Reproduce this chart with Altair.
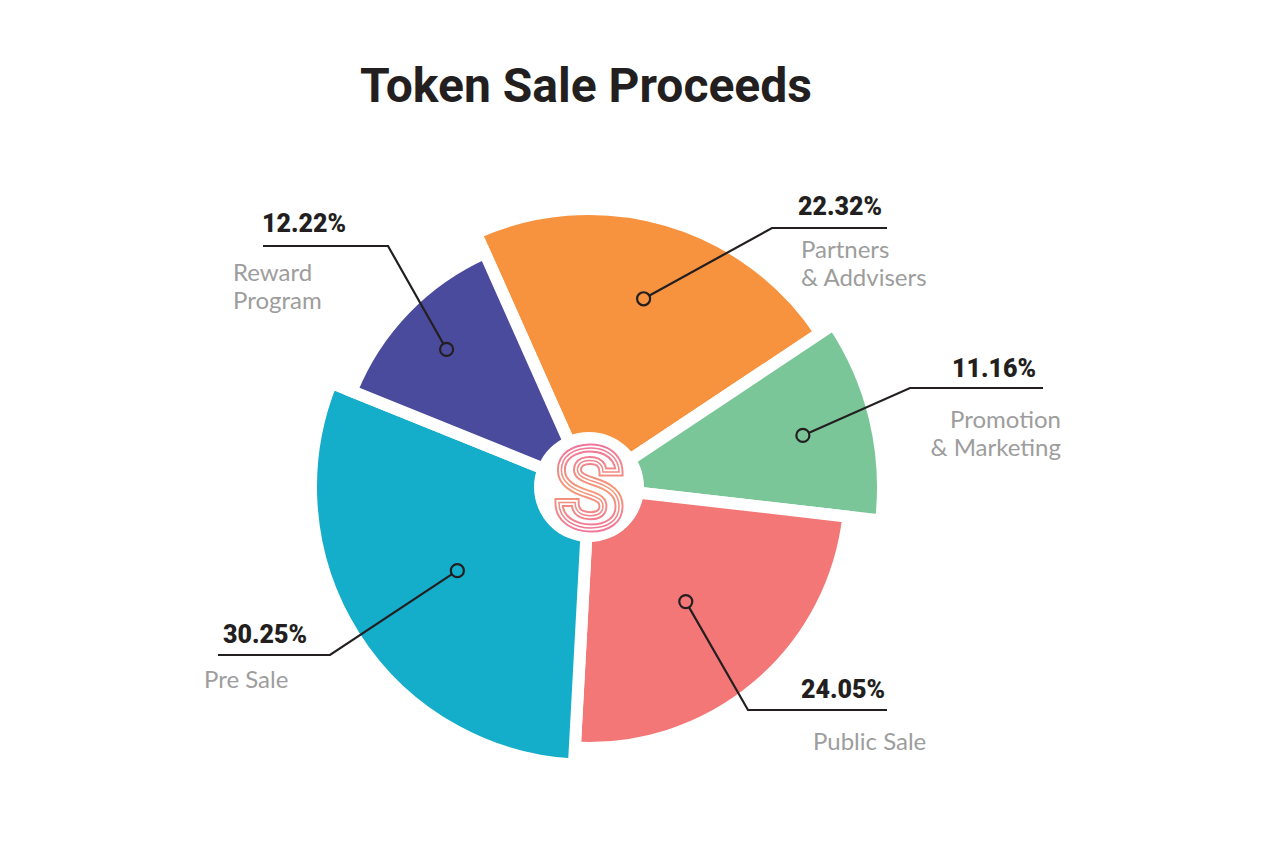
import math
import altair as alt
import pandas as pd

# ---------------- data ----------------
categories = ["Partners & Addvisers", "Promotion & Marketing", "Public Sale", "Pre Sale", "Reward Program"]
shares = [22.32, 11.16, 24.05, 30.25, 12.22]
pct_labels = ["22.32%", "11.16%", "24.05%", "30.25%", "12.22%"]
name_lines = [["Partners", "& Addvisers"], ["Promotion", "& Marketing"], ["Public Sale"], ["Pre Sale"], ["Reward", "Program"]]
title_text = "Token Sale Proceeds"

# ---------------- style / layout ----------------
colors = ["#F7923E", "#7AC698", "#F37776", "#14AECB", "#4A4B9D"]
outer_r = [272, 288, 255, 272, 250]      # drawn outer radius of each slice
dot_dist = [196, 220, 150, 156, 198]     # distance of the leader dot from the centre
CX, CY = 589, 487
START = math.radians(-24)
GAP = 12
HOLE = 55
W, H = 1280, 853
BOLD_FONT = "Roboto, DejaVu Sans Condensed, sans-serif"
LABEL_FONT = "Lato, Open Sans, sans-serif"
DARK = "#231F20"
GREY = "#9D9D9D"

# label layout: elbow point, end x of the horizontal rule, pct text centre, name anchor + align
layout = [
    dict(elbow=(772, 228), end=887, pct=(840, 215), name=(801, 258), align="left"),
    dict(elbow=(910, 388), end=1043, pct=(994, 377), name=(1061, 428), align="right"),
    dict(elbow=(748, 710), end=887, pct=(843, 698), name=(813, 750), align="left"),
    dict(elbow=(330, 655), end=218, pct=(265, 643), name=(204, 688), align="left"),
    dict(elbow=(388, 246), end=263, pct=(304, 232), name=(233, 281), align="left"),
]
LINE_GAP = 28

# ---------------- tables ----------------
arc_df = pd.DataFrame({
    "cat": categories,
    "share": shares,
    "idx": list(range(len(categories))),
    "r": [r + GAP / 2 for r in outer_r],
})

total = sum(shares)
cum = 0.0
dot_rows, line_rows, pct_rows, name_rows = [], [], [], []
for i, (cat, s) in enumerate(zip(categories, shares)):
    mid = START + 2 * math.pi * (cum + s / 2) / total
    cum += s
    dx = CX + dot_dist[i] * math.sin(mid)
    dy = CY - dot_dist[i] * math.cos(mid)
    lay = layout[i]
    dot_rows.append({"cat": cat, "x": dx, "y": dy})
    pts = [(dx, dy), lay["elbow"], (lay["end"], lay["elbow"][1])]
    for k, (px, py) in enumerate(pts):
        line_rows.append({"cat": cat, "k": k, "x": px, "y": py})
    pct_rows.append({"x": lay["pct"][0], "y": lay["pct"][1], "t": pct_labels[i]})
    for j, ln in enumerate(name_lines[i]):
        name_rows.append({"x": lay["name"][0], "y": lay["name"][1] + j * LINE_GAP,
                          "t": ln, "align": lay["align"]})

dot_df = pd.DataFrame(dot_rows)
line_df = pd.DataFrame(line_rows)
pct_df = pd.DataFrame(pct_rows)
name_df = pd.DataFrame(name_rows)
one = pd.DataFrame({"a": [0]})

color_scale = alt.Scale(domain=categories, range=colors)
X = lambda f: alt.X(f, scale=None, axis=None)
Y = lambda f: alt.Y(f, scale=None, axis=None)

arcs = alt.Chart(arc_df).transform_window(
    end="sum(share)", sort=[alt.SortField("idx")], frame=[None, 0]
).transform_calculate(
    start="datum.end - datum.share"
).mark_arc(stroke="white", strokeWidth=GAP).encode(
    theta=alt.Theta("start:Q", scale=alt.Scale(domain=[0, total], range=[START, START + 2 * math.pi])),
    theta2="end:Q",
    radius=alt.Radius("r:Q", scale=None, stack=False),
    color=alt.Color("cat:N", scale=color_scale, legend=None),
    x=alt.value(CX),
    y=alt.value(CY),
)

hole = alt.Chart(one).mark_circle(color="white", opacity=1, size=(2 * HOLE) ** 2).encode(
    x=alt.value(CX), y=alt.value(CY)
)

grad = alt.Gradient(
    gradient="linear",
    stops=[alt.GradientStop(color="#EE62A8", offset=0),
           alt.GradientStop(color="#F39A78", offset=0.5),
           alt.GradientStop(color="#EE62A8", offset=1)],
    x1=0, x2=0, y1=0, y2=1,
)
LOGO_FONT = "Roboto, DejaVu Sans Condensed, sans-serif"
logo_base = alt.Chart(one).encode(x=alt.value(CX), y=alt.value(CY + 40), text=alt.value("S"))
logo1 = logo_base.mark_text(font=LOGO_FONT, fontWeight="bold", fontSize=110, baseline="alphabetic",
                            align="center", fill="white", stroke=grad, strokeWidth=9)
logo2 = logo_base.mark_text(font=LOGO_FONT, fontWeight="bold", fontSize=110, baseline="alphabetic",
                            align="center", fillOpacity=0, stroke="white", strokeWidth=5)
logo3 = logo_base.mark_text(font=LOGO_FONT, fontWeight="bold", fontSize=110, baseline="alphabetic",
                            align="center", fillOpacity=0, stroke=grad, strokeWidth=1.5)

lines = alt.Chart(line_df).mark_line(color=DARK, strokeWidth=2.2).encode(
    x=X("x:Q"), y=Y("y:Q"), detail="cat:N", order="k:Q"
)
dots = alt.Chart(dot_df).mark_circle(size=170, opacity=1, stroke=DARK, strokeWidth=2.2).encode(
    x=X("x:Q"), y=Y("y:Q"), color=alt.Color("cat:N", scale=color_scale, legend=None)
)

pcts = alt.Chart(pct_df).mark_text(font=BOLD_FONT, fontWeight=900, fontSize=25, color=DARK,
                                   align="center", baseline="alphabetic").encode(
    x=X("x:Q"), y=Y("y:Q"), text="t:N"
)
names_left = alt.Chart(name_df).transform_filter(alt.datum.align == "left").mark_text(
    font=LABEL_FONT, fontSize=24, color=GREY, align="left", baseline="alphabetic").encode(
    x=X("x:Q"), y=Y("y:Q"), text="t:N"
)
names_right = alt.Chart(name_df).transform_filter(alt.datum.align == "right").mark_text(
    font=LABEL_FONT, fontSize=24, color=GREY, align="right", baseline="alphabetic").encode(
    x=X("x:Q"), y=Y("y:Q"), text="t:N"
)

title = alt.Chart(one).mark_text(font=BOLD_FONT, fontWeight="bold", fontSize=48, color=DARK,
                                 align="center", baseline="alphabetic").encode(
    x=alt.value(586), y=alt.value(102), text=alt.value(title_text)
)

chart = alt.layer(
    arcs, hole, logo1, logo2, logo3, lines, dots, pcts, names_left, names_right, title
).properties(
    width=W, height=H, padding=0, autosize=alt.AutoSizeParams(type="none"), background="white"
).configure_view(strokeWidth=0)

chart.save("out.html", embed_options={"renderer": "svg", "actions": False})
